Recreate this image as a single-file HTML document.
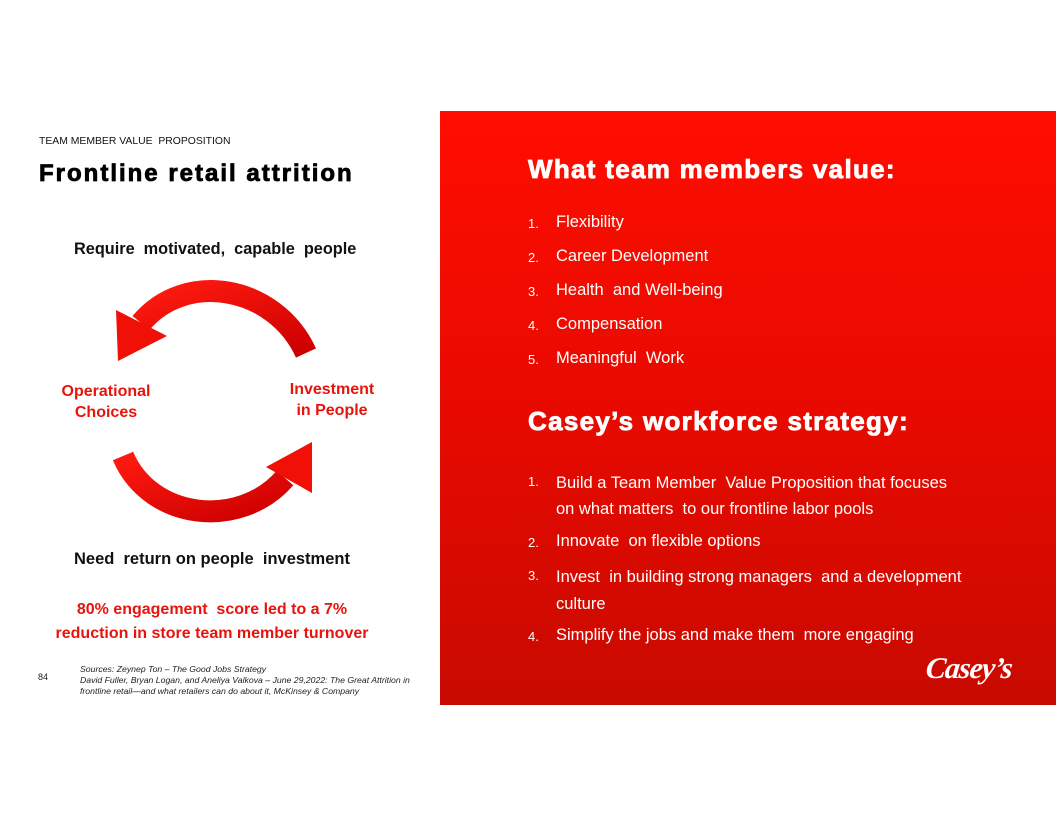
<!DOCTYPE html>
<html><head><meta charset="utf-8"><style>
body{margin:0;width:1056px;height:816px;background:#fff;position:relative;overflow:hidden;font-family:"Liberation Sans",Arial,sans-serif}
.a{position:absolute;white-space:nowrap}
.panel{position:absolute;left:440px;top:111px;width:616px;height:594px;background:linear-gradient(180deg,#ff0d00 0%,#e80a00 50%,#c80a00 100%)}
.h{font-weight:bold;font-size:26px;color:#fff;letter-spacing:1.3px;-webkit-text-stroke:0.8px #fff}
.li{font-size:16.5px;color:#fff}
.n{position:absolute;font-size:13px;color:#fff}
.red{color:#e8140c;font-weight:bold}
</style></head><body>
<div class="a" style="left:39px;top:136px;font-size:10.4px;color:#111">TEAM MEMBER VALUE &nbsp;PROPOSITION</div>
<div class="a" style="left:39px;top:160px;font-size:24px;font-weight:bold;color:#000;letter-spacing:2px;-webkit-text-stroke:0.8px #000">Frontline retail attrition</div>
<div class="a" style="left:74px;top:240px;font-size:16.3px;font-weight:bold;color:#111">Require &nbsp;motivated, &nbsp;capable &nbsp;people</div>
<svg class="a" style="left:0;top:0" width="440" height="600">
<defs><linearGradient id="g" x1="0" y1="0" x2="1" y2="1"><stop offset="0" stop-color="#ff1a10"/><stop offset="1" stop-color="#cc0000"/></linearGradient></defs>
<path d="M306 353 C 275 285, 185 270, 141 323" fill="none" stroke="url(#g)" stroke-width="22"/>
<polygon points="116,310 118,361 167,336" fill="#f01008"/>
<path d="M123 456 C 150 520, 240 530, 285 478" fill="none" stroke="url(#g)" stroke-width="22"/>
<polygon points="266,467 312,442 312,493" fill="#f01008"/>
</svg>
<div class="a red" style="left:60px;top:381px;font-size:16px;text-align:center;width:92px;line-height:21px">Operational<br>Choices</div>
<div class="a red" style="left:286px;top:379px;font-size:16px;text-align:center;width:92px;line-height:21px">Investment<br>in People</div>
<div class="a" style="left:74px;top:550px;font-size:16.5px;font-weight:bold;color:#111">Need &nbsp;return on people &nbsp;investment</div>
<div class="a red" style="left:40px;top:598px;width:344px;text-align:center;font-size:16px;line-height:24px">80% engagement &nbsp;score led to a 7%<br>reduction in store team member turnover</div>
<div class="a" style="left:38px;top:672px;font-size:9px;color:#222">84</div>
<div class="a" style="left:80px;top:664px;font-size:8.7px;font-style:italic;color:#222;line-height:11px">Sources: Zeynep Ton – The Good Jobs Strategy<br>David Fuller, Bryan Logan, and Aneliya Valkova – June 29,2022: The Great Attrition in<br>frontline retail—and what retailers can do about it, McKinsey &amp; Company</div>
<div class="panel"></div>
<div class="a h" style="left:528px;top:154px">What team members value:</div>
<div class="n" style="left:528px;top:216px">1.</div><div class="a li" style="left:556px;top:213px">Flexibility</div>
<div class="n" style="left:528px;top:250px">2.</div><div class="a li" style="left:556px;top:247px">Career Development</div>
<div class="n" style="left:528px;top:284px">3.</div><div class="a li" style="left:556px;top:281px">Health &nbsp;and Well-being</div>
<div class="n" style="left:528px;top:318px">4.</div><div class="a li" style="left:556px;top:315px">Compensation</div>
<div class="n" style="left:528px;top:352px">5.</div><div class="a li" style="left:556px;top:349px">Meaningful &nbsp;Work</div>
<div class="a h" style="left:528px;top:406px">Casey’s workforce strategy:</div>
<div class="n" style="left:528px;top:474px">1.</div><div class="a li" style="left:556px;top:470px;line-height:26px">Build a Team Member &nbsp;Value Proposition that focuses<br>on what matters &nbsp;to our frontline labor pools</div>
<div class="n" style="left:528px;top:535px">2.</div><div class="a li" style="left:556px;top:532px">Innovate &nbsp;on flexible options</div>
<div class="n" style="left:528px;top:568px">3.</div><div class="a li" style="left:556px;top:564px;line-height:27px">Invest &nbsp;in building strong managers &nbsp;and a development<br>culture</div>
<div class="n" style="left:528px;top:629px">4.</div><div class="a li" style="left:556px;top:626px">Simplify the jobs and make them &nbsp;more engaging</div>
<div class="a" style="left:926px;top:652px;font-size:30px;font-weight:bold;font-style:italic;color:#fff;font-family:'Liberation Serif',serif;letter-spacing:-1px;transform:skewX(-6deg)">Casey’s</div>
</body></html>
